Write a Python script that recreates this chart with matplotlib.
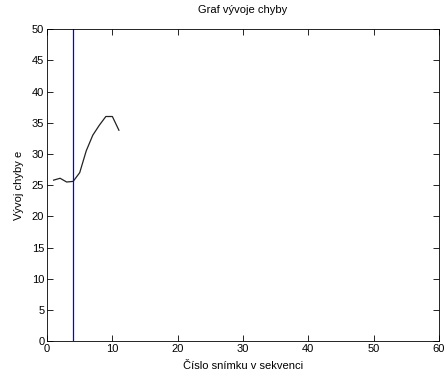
import matplotlib
matplotlib.use("Agg")
import matplotlib.pyplot as plt

# ==========================================================
# DATA
# ==========================================================

frames = [1, 2, 3, 4, 5, 6, 7, 8, 9, 10, 11]
error_values = [25.8, 26.1, 25.5, 25.6, 27.0, 30.5, 33.0, 34.6, 36.0, 36.0, 33.8]
marker_frame = 4

x_ticks = [0, 10, 20, 30, 40, 50, 60]
y_ticks = [0, 5, 10, 15, 20, 25, 30, 35, 40, 45, 50]

# ==========================================================
# PLOT
# ==========================================================

plt.rcParams["font.family"] = ["Liberation Sans", "DejaVu Sans"]
plt.rcParams["font.size"] = 8

fig = plt.figure(figsize=(4.48, 3.74), dpi=100)
ax = fig.add_axes([0.105, 0.088, 0.875, 0.834])

ax.plot(frames, error_values, color="#222222", linewidth=0.9)
ax.axvline(marker_frame, color="#0000ff", linewidth=0.9)

ax.set_xlim(0, 60)
ax.set_ylim(0, 50)
ax.set_xticks(x_ticks)
ax.set_yticks(y_ticks)

ax.tick_params(direction="in", top=True, right=True, length=4, width=0.6, pad=2)
for spine in ax.spines.values():
    spine.set_linewidth(0.6)

ax.set_title("Graf vývoje chyby", fontsize=8, pad=12)
ax.set_xlabel("Číslo snímku v sekvenci", labelpad=5)
ax.set_ylabel("Vývoj chyby e", labelpad=6)

fig.savefig("out.png", dpi=100)
